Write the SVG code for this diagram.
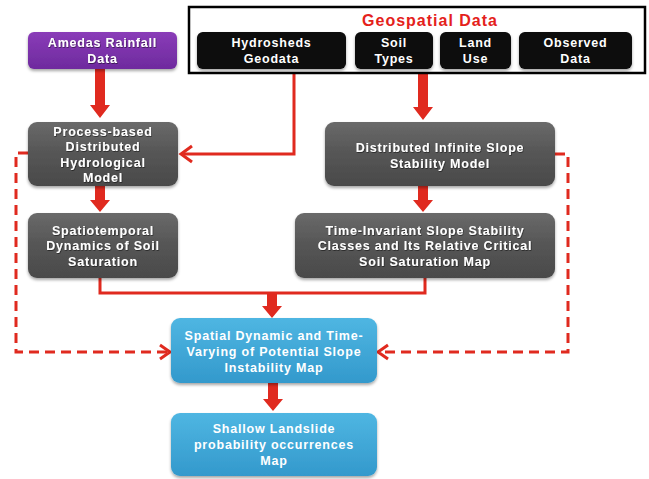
<svg xmlns="http://www.w3.org/2000/svg" width="649" height="479" viewBox="0 0 649 479">
<style>
.t{font-family:"Liberation Sans",Arial,sans-serif;font-weight:bold;font-size:12.5px;letter-spacing:0.8px;fill:#fff;text-anchor:middle}
.g{font-family:"Liberation Sans",Arial,sans-serif;font-weight:bold;font-size:16px;letter-spacing:1px;fill:#e4211b;text-anchor:middle}
.arr{fill:#e02a1f}
.ln{fill:none;stroke:#e02a1f;stroke-width:3}
.ds{fill:none;stroke:#e02a1f;stroke-width:3;stroke-dasharray:10 6}
.gray{fill:url(#gg)}
.blue{fill:url(#bg)}
.blk{fill:#070707}
</style>
<defs>
<linearGradient id="gg" x1="0" y1="0" x2="0" y2="1"><stop offset="0" stop-color="#6a6a6a"/><stop offset="0.5" stop-color="#555"/><stop offset="1" stop-color="#4a4a4a"/></linearGradient>
<linearGradient id="bg" x1="0" y1="0" x2="0" y2="1"><stop offset="0" stop-color="#4fb6e2"/><stop offset="1" stop-color="#3399cc"/></linearGradient>
<linearGradient id="pg" x1="0" y1="0" x2="0" y2="1"><stop offset="0" stop-color="#8a3cb8"/><stop offset="1" stop-color="#6e2a9e"/></linearGradient>
<filter id="sh" x="-10%" y="-10%" width="120%" height="130%"><feDropShadow dx="0" dy="2" stdDeviation="1.5" flood-color="#000" flood-opacity="0.35"/></filter>
<filter id="ts" x="-5%" y="-20%" width="110%" height="140%"><feDropShadow dx="0.6" dy="0.8" stdDeviation="0.5" flood-color="#000" flood-opacity="0.6"/></filter>
</defs>
<g id="connectors">
<path class="arr" d="M95 69H105V105H110L100 118L90 105H95Z"/>
<path class="arr" d="M418 69H428V107H433L423 120L413 107H418Z"/>
<path class="arr" d="M95 186H105V200H110L100 212L90 200H95Z"/>
<path class="arr" d="M418 186H428V200H433L423 212L413 200H418Z"/>
<path class="ln" d="M100 278V293H425V278"/>
<path class="arr" d="M267 292H277V306H282L272 318L262 306H267Z"/>
<path class="arr" d="M268 383H278V399H283L273 411L263 399H268Z"/>
<path class="ln" d="M294 69V154H182"/>
<path class="ln" d="M192 146L181 154L192 162"/>
<path class="ds" d="M28 153H16V352H168"/>
<path class="ln" d="M160 345L170 352L160 359"/>
<path class="ds" d="M555 154H568V352H380"/>
<path class="ln" d="M388 345L378 352L388 359"/>
</g>
<g id="geospatial">
<rect x="189" y="7" width="456" height="66" fill="#fff" stroke="#000" stroke-width="2.5"/>
<text class="g" x="430" y="26">Geospatial Data</text>
</g>
<g id="hydrosheds"><rect class="blk" x="197" y="32" width="149" height="37" rx="6" filter="url(#sh)"/>
<text class="t" x="271.5" y="47">Hydrosheds</text><text class="t" x="271.5" y="63">Geodata</text></g>
<g id="soil"><rect class="blk" x="355" y="32" width="78" height="37" rx="6" filter="url(#sh)"/>
<text class="t" x="394" y="47">Soil</text><text class="t" x="394" y="63">Types</text></g>
<g id="landuse"><rect class="blk" x="440" y="32" width="71" height="37" rx="6" filter="url(#sh)"/>
<text class="t" x="475.5" y="47">Land</text><text class="t" x="475.5" y="63">Use</text></g>
<g id="observed"><rect class="blk" x="519" y="32" width="113" height="37" rx="6" filter="url(#sh)"/>
<text class="t" x="575.5" y="47">Observed</text><text class="t" x="575.5" y="63">Data</text></g>
<g id="amedas"><rect x="28" y="32" width="149" height="37" rx="6" fill="url(#pg)" filter="url(#sh)"/>
<g filter="url(#ts)"><text class="t" x="102.5" y="47">Amedas Rainfall</text><text class="t" x="102.5" y="63">Data</text></g></g>
<g id="process"><rect class="gray" x="28" y="122" width="150" height="64" rx="9" filter="url(#sh)"/>
<g filter="url(#ts)"><text class="t" x="103" y="135.5">Process-based</text><text class="t" x="103" y="151">Distributed</text><text class="t" x="103" y="166.5">Hydrological</text><text class="t" x="103" y="182">Model</text></g></g>
<g id="infinite"><rect class="gray" x="325" y="122" width="230" height="64" rx="9" filter="url(#sh)"/>
<g filter="url(#ts)"><text class="t" x="440" y="151.5">Distributed Infinite Slope</text><text class="t" x="440" y="167.5">Stability Model</text></g></g>
<g id="spatiotemporal"><rect class="gray" x="28" y="213" width="150" height="65" rx="9" filter="url(#sh)"/>
<g filter="url(#ts)"><text class="t" x="103" y="234.5">Spatiotemporal</text><text class="t" x="103" y="250">Dynamics of Soil</text><text class="t" x="103" y="265.5">Saturation</text></g></g>
<g id="timeinvariant"><rect class="gray" x="295" y="213" width="260" height="65" rx="9" filter="url(#sh)"/>
<g filter="url(#ts)"><text class="t" x="425" y="234.5">Time-Invariant Slope Stability</text><text class="t" x="425" y="250">Classes and Its Relative Critical</text><text class="t" x="425" y="265.5">Soil Saturation Map</text></g></g>
<g id="spatial"><rect class="blue" x="171" y="318" width="206" height="65" rx="9" filter="url(#sh)"/>
<text class="t" x="274" y="339.5">Spatial Dynamic and Time-</text><text class="t" x="274" y="356">Varying of Potential Slope</text><text class="t" x="274" y="371.5">Instability Map</text></g>
<g id="shallow"><rect class="blue" x="171" y="413" width="206" height="63" rx="9" filter="url(#sh)"/>
<text class="t" x="274" y="432.5">Shallow Landslide</text><text class="t" x="274" y="449">probability occurrences</text><text class="t" x="274" y="465">Map</text></g>
</svg>
